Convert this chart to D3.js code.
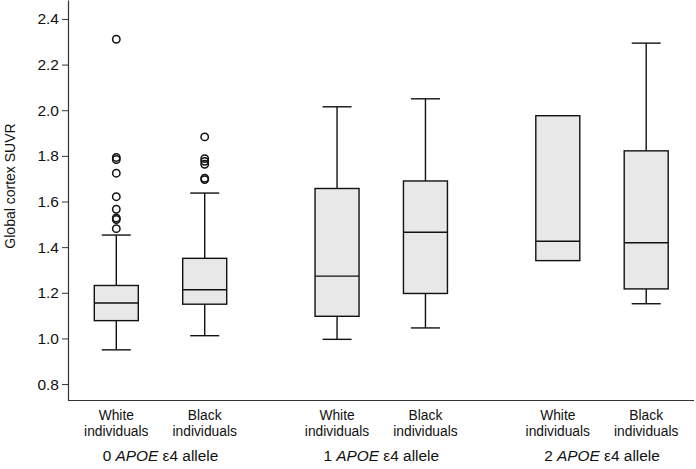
<!DOCTYPE html>
<html>
<head>
<meta charset="utf-8">
<script src="https://cdn.jsdelivr.net/npm/d3@7"></script>
<style>
  body { margin: 0; background: #fff; }
  svg { display: block; font-family: Arial, "Liberation Sans", sans-serif; }
</style>
</head>
<body>
<svg class="boxChart" width="696" height="469"></svg>
<script>
// groups along the x axis
const groups = ["0", "1", "2"];
const races = ["White", "Black"];
const yTicks = [0.8, 1.0, 1.2, 1.4, 1.6, 1.8, 2.0, 2.2, 2.4];

// box stats per group: [White, Black]
const whiskerLow  = [[0.95, 1.012], [0.996, 1.046], [null, 1.152]];
const q1          = [[1.078, 1.150], [1.097, 1.197], [1.341, 1.217]];
const medians     = [[1.155, 1.213], [1.273, 1.465], [1.426, 1.419]];
const q3          = [[1.232, 1.351], [1.657, 1.690], [1.976, 1.822]];
const whiskerHigh = [[1.453, 1.637], [2.015, 2.050], [null, 2.294]];
const outliers    = [
  [[2.311, 1.793, 1.784, 1.724, 1.621, 1.566, 1.528, 1.521, 1.481],
   [1.883, 1.788, 1.776, 1.763, 1.702, 1.696]],
  [[], []],
  [[], []]
];

function drawBoxes(){
  const margin = { top: 0, left: 68, right: 2, bottom: 68.5 };
  const W = 696, H = 469;
  const plotBottom = H - margin.bottom;

  const svg = d3.select('svg.boxChart');

  const y = d3.scaleLinear()
      .domain([0.728, 2.483])
      .range([plotBottom, margin.top]);

  const x = d3.scalePoint()
      .domain(groups)
      .range([160.5, 602]);

  const xr = d3.scalePoint()
      .domain(races)
      .range([-44.2, 44.2]);

  const boxW = 44, capW = 29;
  const ink = '#111';
  const txt = '#111';

  // y axis
  const yAxis = svg.append('g')
      .attr('class', 'axis y')
      .attr('transform', `translate(${margin.left},0)`)
      .call(d3.axisLeft(y).tickValues(yTicks).tickFormat(d3.format('.1f'))
            .tickSize(6).tickSizeOuter(0).tickPadding(3));
  yAxis.select('.domain').attr('stroke', '#333').attr('stroke-width', 1.2);
  yAxis.selectAll('.tick line').attr('stroke', '#333');
  yAxis.selectAll('.tick text')
      .style('font-size', '15.5px')
      .attr('fill', txt);

  svg.append('text')
      .text('Global cortex SUVR')
      .attr('transform', `translate(15,186) rotate(-90)`)
      .style('text-anchor', 'middle')
      .style('font-size', '14px')
      .attr('fill', txt);

  // x axis line
  svg.append('line')
      .attr('x1', margin.left).attr('x2', W - margin.right)
      .attr('y1', plotBottom).attr('y2', plotBottom)
      .attr('stroke', '#333').attr('stroke-width', 1.2);

  const rows = [];
  groups.forEach((g, gi) => races.forEach((r, ri) => rows.push({
    g, r, cx: x(g) + xr(r),
    lo: whiskerLow[gi][ri], q1: q1[gi][ri], med: medians[gi][ri],
    q3: q3[gi][ri], hi: whiskerHigh[gi][ri], out: outliers[gi][ri]
  })));

  const box = svg.selectAll('g.box')
    .data(rows)
    .enter()
    .append('g')
      .attr('class', 'box');

  // whiskers
  box.filter(d => d.hi != null).append('line')
      .attr('x1', d => d.cx).attr('x2', d => d.cx)
      .attr('y1', d => y(d.q3)).attr('y2', d => y(d.hi))
      .attr('stroke', ink).attr('stroke-width', 1.4);
  box.filter(d => d.lo != null).append('line')
      .attr('x1', d => d.cx).attr('x2', d => d.cx)
      .attr('y1', d => y(d.q1)).attr('y2', d => y(d.lo))
      .attr('stroke', ink).attr('stroke-width', 1.4);
  box.filter(d => d.hi != null).append('line')
      .attr('x1', d => d.cx - capW/2).attr('x2', d => d.cx + capW/2)
      .attr('y1', d => y(d.hi)).attr('y2', d => y(d.hi))
      .attr('stroke', ink).attr('stroke-width', 1.4);
  box.filter(d => d.lo != null).append('line')
      .attr('x1', d => d.cx - capW/2).attr('x2', d => d.cx + capW/2)
      .attr('y1', d => y(d.lo)).attr('y2', d => y(d.lo))
      .attr('stroke', ink).attr('stroke-width', 1.4);

  // boxes
  box.append('rect')
      .attr('x', d => d.cx - boxW/2)
      .attr('y', d => y(d.q3))
      .attr('width', boxW)
      .attr('height', d => y(d.q1) - y(d.q3))
      .attr('fill', '#e8e8e8')
      .attr('stroke', ink)
      .attr('stroke-width', 1.4);

  box.append('line')
      .attr('x1', d => d.cx - boxW/2).attr('x2', d => d.cx + boxW/2)
      .attr('y1', d => y(d.med)).attr('y2', d => y(d.med))
      .attr('stroke', ink).attr('stroke-width', 1.4);

  // outliers
  box.selectAll('circle')
    .data(d => d.out.map(v => ({ cx: d.cx, v })))
    .enter()
    .append('circle')
      .attr('cx', d => d.cx)
      .attr('cy', d => y(d.v))
      .attr('r', 3.7)
      .attr('fill', 'none')
      .attr('stroke', ink)
      .attr('stroke-width', 1.5);

  // x labels
  const lab = svg.selectAll('text.raceLab')
    .data(rows)
    .enter()
    .append('text')
      .attr('class', 'raceLab')
      .attr('x', d => d.cx)
      .attr('y', 419.5)
      .style('text-anchor', 'middle')
      .style('font-size', '13.8px')
      .attr('fill', txt);
  lab.append('tspan').text(d => d.r);
  lab.append('tspan').attr('x', d => d.cx).attr('dy', 16.5).text('individuals');

  const gLab = svg.selectAll('text.groupLab')
    .data(groups)
    .enter()
    .append('text')
      .attr('class', 'groupLab')
      .attr('x', d => x(d))
      .attr('y', 461)
      .style('text-anchor', 'middle')
      .style('font-size', '15.4px')
      .attr('fill', txt);
  gLab.append('tspan').text(d => d + ' ');
  gLab.append('tspan').style('font-style', 'italic').text('APOE');
  gLab.append('tspan').text(' ε4 allele');
}

drawBoxes();
</script>
</body>
</html>
